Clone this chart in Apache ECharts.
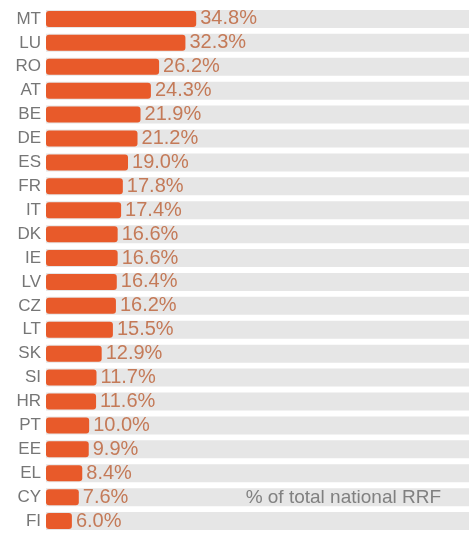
<!DOCTYPE html>
<html>
<head>
<meta charset="utf-8">
<script src="https://cdn.jsdelivr.net/npm/echarts@6/dist/echarts.min.js"></script>
<style>
html,body{margin:0;padding:0;background:#fff;}
#chart{width:469px;height:533px;}
</style>
</head>
<body>
<div id="chart"></div>
<script>
var countries = ['MT','LU','RO','AT','BE','DE','ES','FR','IT','DK','IE','LV','CZ','LT','SK','SI','HR','PT','EE','EL','CY','FI'];
var shares = [34.8,32.3,26.2,24.3,21.9,21.2,19.0,17.8,17.4,16.6,16.6,16.4,16.2,15.5,12.9,11.7,11.6,10.0,9.9,8.4,7.6,6.0];
var axisMax = 98;
var noteText = '% of total national RRF';

var track = countries.map(function(){ return axisMax; });

var chart = echarts.init(document.getElementById('chart'));
chart.setOption({
  animation: false,
  grid: {left: 46, right: 0, top: 7, height: 527},
  xAxis: {type: 'value', min: 0, max: axisMax, show: false},
  yAxis: [
    {
      type: 'category', data: countries, inverse: true,
      axisLine: {show: false}, axisTick: {show: false},
      axisLabel: {color: '#767676', fontSize: 17, margin: 5, fontFamily: 'Liberation Sans'}
    },
    {
      type: 'category', data: countries, inverse: true, show: false
    }
  ],
  series: [
    {
      type: 'bar', yAxisIndex: 1, data: track, barWidth: 18, silent: true,
      itemStyle: {color: '#e6e6e6'}
    },
    {
      type: 'bar', yAxisIndex: 0, data: shares, barWidth: 16,
      itemStyle: {color: '#e85a2a', borderRadius: 3},
      label: {
        show: true, position: 'right', distance: 4,
        formatter: function(p){ return p.value.toFixed(1) + '%'; },
        color: '#c47a58', fontSize: 20, fontFamily: 'Liberation Sans'
      }
    }
  ],
  graphic: [{
    type: 'text', right: 28, top: 488, z: 100,
    style: {text: noteText, fill: '#808080', fontSize: 19, fontFamily: 'Liberation Sans'}
  }]
});
</script>
</body>
</html>
